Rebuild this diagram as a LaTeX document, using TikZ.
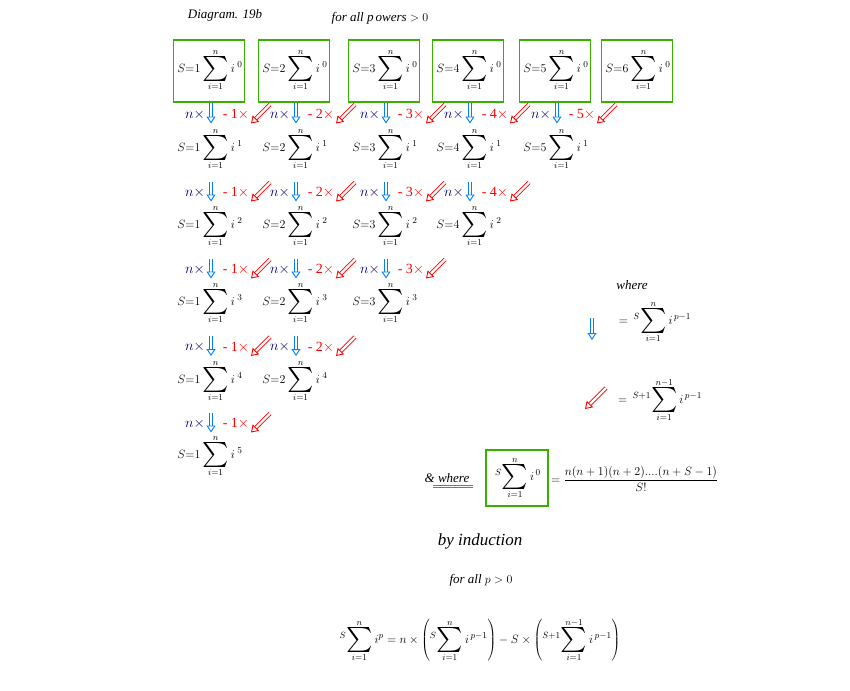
\documentclass[tikz,border=0pt]{standalone}
\usepackage{fontspec}
\usepackage{graphicx}
\setmainfont{Liberation Serif}
\usetikzlibrary{arrows.meta}
\newcommand\BigSum{\mathop{\vcenter{\vbox{\kern0.5pt\hbox{\scalebox{2.5}{$\sum$}}\kern0.5pt}}}\limits}
\begin{document}
\begin{tikzpicture}[x=1pt,y=-1pt,
  sm/.style={font=\fontsize{13}{15}\selectfont, inner sep=1pt},
  bx/.style={draw=green!55!black!70!lime, line width=1.6pt, minimum width=71pt, minimum height=62pt},
  bl/.style={draw=blue!50!cyan, double, double distance=2.2pt, line width=0.9pt, -{Triangle[open,length=7pt,width=9pt]}},
  rd/.style={draw=red, double, double distance=2.2pt, line width=0.9pt, -{Triangle[open,length=7pt,width=9pt]}},
  nx/.style={text=blue!50!black, font=\fontsize{14}{16}\selectfont},
  kx/.style={text=red, font=\fontsize{14}{16}\selectfont},
  it/.style={font=\itshape\fontsize{13}{15}\selectfont}]
\useasboundingbox (0,0) rectangle (850,690);
\def\xs{{0,208,293,383,467,554,636}}
\def\ys{{70,149,226,303,381,456}}
% sums
\foreach \r in {0,...,5}{
  \pgfmathtruncatemacro\cmax{6-\r}
  \foreach \c in {1,...,\cmax}{
    \pgfmathsetmacro\xx{\xs[\c]}
    \pgfmathsetmacro\yy{\ys[\r]}
    \node[sm] (s-\r-\c) at (\xx+2,\yy) {$S{=}\c\BigSum_{i=1}^{n}i^{\;\r}$};
  }
}
\foreach \c in {1,...,6}{
  \pgfmathsetmacro\xx{\xs[\c]}
  \node[bx] (b-\c) at (\xx+1,71) {};
}
% arrows between rows
\foreach \r in {0,...,4}{
  \pgfmathtruncatemacro\cmax{5-\r}
  \pgfmathtruncatemacro\rn{\r+1}
  \foreach \c in {1,...,\cmax}{
    \pgfmathsetmacro\xx{\xs[\c]}
    \pgfmathsetmacro\ya{\ys[\r]}
    \pgfmathsetmacro\yb{\ys[\rn]}
    \pgfmathsetmacro\ym{(\ya+\yb)/2+5}
    \coordinate (bt-\r-\c) at (\xx+3,\ym-11);
    \coordinate (bb-\r-\c) at (\xx+3,\ym+9);
    \draw[bl] (bt-\r-\c) -- (bb-\r-\c);
    \node[nx] (nx-\r-\c) at (\xx-13,\ym) {$n\times$};
    \node[kx] (kx-\r-\c) at (\xx+28,\ym) {- \c$\times$};
    \coordinate (rt-\r-\c) at (\xx+62,\ym-10);
    \coordinate (rb-\r-\c) at (\xx+43,\ym+9);
    \draw[rd] (rt-\r-\c) -- (rb-\r-\c);
  }
}
\node[it] (t1) at (225,15) {Diagram. 19b};
\node[it] (t2) at (380,18) {for all p\,owers $>0$};
\node[it] (w1) at (632,285) {where};
\coordinate (la1) at (592,318); \coordinate (la2) at (592,340);
\draw[bl] (la1) -- (la2);
\node[sm] (f1) at (655,322) {$=\,{}^{S}\!\BigSum_{i=1}^{n} i^{\,p-1}$};
\coordinate (lr1) at (606,388); \coordinate (lr2) at (585,409);
\draw[rd] (lr1) -- (lr2);
\node[sm] (f2) at (660,400) {$=\,{}^{S+1}\!\BigSum_{i=1}^{n-1} i^{\,p-1}$};
\node[it] (w2) at (447,478) {\& where};
\draw[blue!60, line width=0.5pt] (433,485.5) -- (473,485.5);
\draw[blue!60, line width=0.5pt] (433,487.5) -- (473,487.5);
\node[sm] (f3) at (518,478) {${}^{S}\!\BigSum_{i=1}^{n} i^{\,0}$};
\node[bx, minimum width=62pt, minimum height=56pt] (b7) at (517,478) {};
\node[sm, anchor=west] (f4) at (550,479) {$=\displaystyle\frac{n(n+1)(n+2)....(n+S-1)}{S!}$};
\node[font=\itshape\fontsize{17}{19}\selectfont] (bi) at (480,541) {by induction};
\node[it] (fa) at (481,580) {for all $p>0$};
\node[sm] (fb) at (480,640) {${}^{S}\!\BigSum_{i=1}^{n} i^{p}= n\times\left({}^{S}\!\BigSum_{i=1}^{n} i^{\,p-1}\right)-S\times\left({}^{S+1}\!\BigSum_{i=1}^{n-1} i^{\,p-1}\right)$};
\end{tikzpicture}
\end{document}
